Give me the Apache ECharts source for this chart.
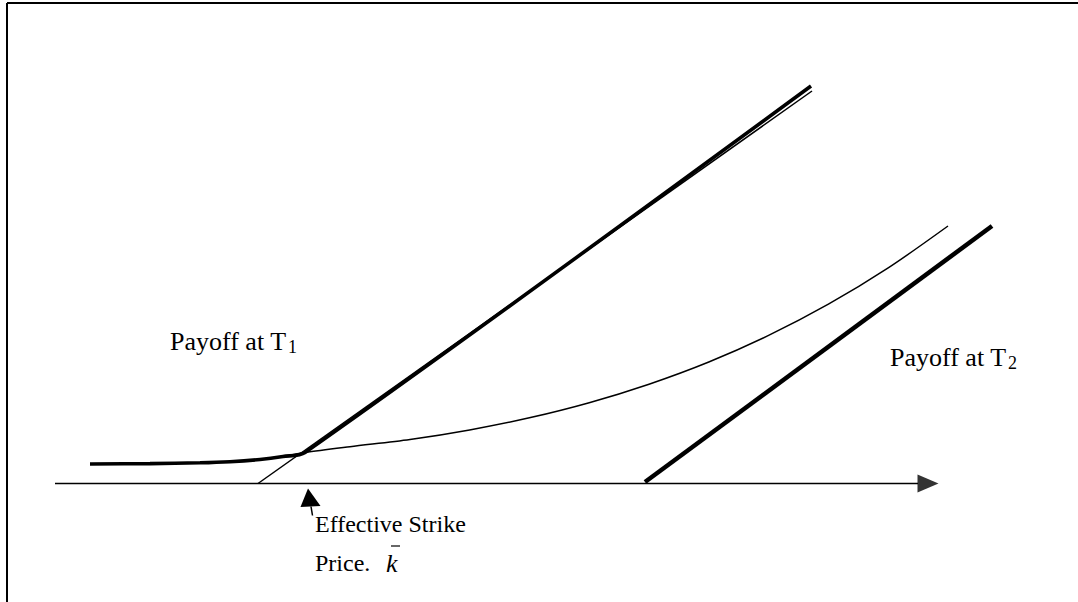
<!DOCTYPE html>
<html>
<head>
<meta charset="utf-8">
<script src="https://cdn.jsdelivr.net/npm/echarts@6/dist/echarts.min.js"></script>
<style>
  html, body { margin: 0; padding: 0; background: #fff; }
  #chart { width: 1078px; height: 602px; }
</style>
</head>
<body>
<div id="chart"></div>
<script>
// ---- Data (x = underlying price, y = payoff; arbitrary units) ----
// Value of the T2 option seen at T1 (thin convex curve)
var curveX = [9.0, 15.0, 20.0, 23.0, 26.0, 28.3, 30.5, 35.0, 41.0, 46.96, 52.94, 58.92, 64.9, 70.88, 76.86, 82.84, 88.82, 94.8];
var curveY = [1.95, 1.99, 2.07, 2.18, 2.40, 2.70, 3.10, 3.68, 4.40, 5.36, 6.57, 8.08, 9.93, 12.15, 14.81, 17.93, 21.56, 25.75];
// Exercise value at T1 (thin straight line)
var intrinsicX = [25.8, 81.2];
var intrinsicY = [0.0, 39.25];
// Payoff at T1 (thick envelope): curve up to the effective strike, then the line
var payoffT1X = [9.0, 15.0, 20.0, 23.0, 26.0, 28.3, 30.5, 81.1];
var payoffT1Y = [1.95, 1.99, 2.07, 2.18, 2.40, 2.70, 3.10, 39.75];
// Payoff at T2 (thick straight line)
var payoffT2X = [64.5, 99.2];
var payoffT2Y = [0.15, 25.75];
// Horizontal price axis and its arrow
var axisX = [5.5, 91.8];
var axisArrowX = 92.8;
// Effective strike
var effectiveStrike = 30.9;
// Labels
var labelT1 = 'Payoff at T';
var labelT2 = 'Payoff at T';
var subT1 = '1';
var subT2 = '2';
var strikeLine1 = 'Effective Strike';
var strikeLine2 = 'Price.';
var strikeSymbol = 'k';

function zip(xs, ys) { return xs.map(function (x, i) { return [x, ys[i]]; }); }

var chart = echarts.init(document.getElementById('chart'), null, { renderer: 'svg' });
var serif = '"Liberation Serif", "Times New Roman", serif';

chart.setOption({
  animation: false,
  backgroundColor: '#ffffff',
  grid: { left: 0, right: 0, top: 0, bottom: 0 },
  xAxis: { type: 'value', min: 0, max: 107.8, show: false },
  yAxis: { type: 'value', min: -11.85, max: 48.35, show: false },
  series: [
    {
      name: 'axis', type: 'line', data: zip(axisX, [0, 0]), symbol: 'none',
      lineStyle: { color: '#000', width: 1.5 }, z: 1
    },
    {
      name: 'axisArrow', type: 'scatter', data: [[axisArrowX, 0]],
      symbol: 'triangle', symbolSize: [18, 21], symbolRotate: -90,
      itemStyle: { color: '#000' }, z: 1
    },
    {
      name: 'T2 value', type: 'line', data: zip(curveX, curveY), symbol: 'none', smooth: 0.3,
      lineStyle: { color: '#000', width: 1.5 }, z: 2
    },
    {
      name: 'Intrinsic', type: 'line', data: zip(intrinsicX, intrinsicY), symbol: 'none',
      lineStyle: { color: '#000', width: 1.5 }, z: 2
    },
    {
      name: 'Payoff at T1', type: 'line', data: zip(payoffT1X, payoffT1Y), symbol: 'none', smooth: 0.3,
      lineStyle: { color: '#000', width: 3.6 }, z: 3
    },
    {
      name: 'Payoff at T2', type: 'line', data: zip(payoffT2X, payoffT2Y), symbol: 'none',
      lineStyle: { color: '#000', width: 4.5 }, z: 3
    }
  ]
});

var kp = chart.convertToPixel({ gridIndex: 0 }, [effectiveStrike, 0]);
var ax = kp[0], ay = kp[1];
var tstyle = function (txt, size, extra) {
  var s = { text: txt, fill: '#000', font: size + 'px ' + serif, textVerticalAlign: 'middle', verticalAlign: 'middle' };
  if (extra) for (var k in extra) s[k] = extra[k];
  return s;
};

chart.setOption({
  graphic: [
    // frame (top and left edges)
    { type: 'line', shape: { x1: 7, y1: 3, x2: 1078, y2: 3 }, style: { stroke: '#000', lineWidth: 2 } },
    { type: 'line', shape: { x1: 7, y1: 3, x2: 7, y2: 602 }, style: { stroke: '#000', lineWidth: 2 } },
    // arrow pointing at effective strike
    { type: 'polygon', shape: { points: [[ax - 1, ay + 5], [ax - 8.5, ay + 23.5], [ax + 11.5, ay + 22.5]] }, style: { fill: '#000' } },
    { type: 'line', shape: { x1: ax + 2, y1: ay + 23, x2: ax + 3.5, y2: ay + 32 }, style: { stroke: '#000', lineWidth: 1.5 } },
    // labels
    { type: 'text', x: 170, y: 341, style: tstyle(labelT1, 26) },
    { type: 'text', x: 288, y: 347, style: tstyle(subT1, 18) },
    { type: 'text', x: 890, y: 357, style: tstyle(labelT2, 26) },
    { type: 'text', x: 1008, y: 363, style: tstyle(subT2, 18) },
    { type: 'text', x: 315, y: 524, style: tstyle(strikeLine1, 24) },
    { type: 'text', x: 315, y: 563, style: tstyle(strikeLine2, 24) },
    { type: 'text', x: 386, y: 563, style: tstyle(strikeSymbol, 26, { font: 'italic 26px ' + serif }) },
    { type: 'line', shape: { x1: 391, y1: 546, x2: 400, y2: 546 }, style: { stroke: '#000', lineWidth: 1.2 } }
  ]
});
</script>
</body>
</html>
